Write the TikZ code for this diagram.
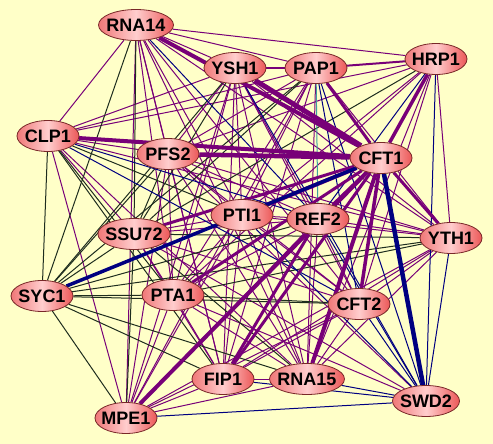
\documentclass[tikz,border=0pt]{standalone}
\usepackage{fontspec}
\setsansfont{Liberation Sans}
\usepackage{xcolor}
\usepackage{tikz}
\usetikzlibrary{shapes.geometric}

\definecolor{bgyellow}{RGB}{255,255,200}
\definecolor{edgepurple}{RGB}{120,0,120}
\definecolor{edgenavy}{RGB}{0,0,128}
\definecolor{edgeblack}{RGB}{30,45,30}
\definecolor{edgeteal}{RGB}{60,160,160}
\definecolor{geneleft}{RGB}{240,120,120}
\definecolor{genemid}{RGB}{255,205,205}
\definecolor{generight}{RGB}{236,88,88}
\definecolor{geneborder}{RGB}{120,40,40}

\pgfdeclarelayer{background}
\pgfdeclarelayer{edges}
\pgfsetlayers{background,edges,main}

\begin{document}
\begin{tikzpicture}[
    x=1pt, y=-1pt,
    gene/.style={ellipse, draw=geneborder, line width=0.8pt, left color=geneleft, right color=generight, middle color=genemid, minimum width=62pt, minimum height=31pt, inner xsep=-3pt, inner ysep=0pt, font=\sffamily\bfseries\fontsize{18}{18}\selectfont},
    link/.style={line width=1pt, color=#1},
    heavy/.style={color=#1},
]
    \useasboundingbox (0,0) rectangle (493,444);
    \begin{pgfonlayer}{background}
        \fill[bgyellow] (0,0) rectangle (493,444);
    \end{pgfonlayer}

    % Top row
    \node[gene] (rna14) at (136,25) {RNA14};
    \node[gene] (ysh1) at (235,68) {YSH1};
    \node[gene] (pap1) at (316,68) {PAP1};
    \node[gene] (hrp1) at (436,59) {HRP1};

    % Upper middle
    \node[gene] (clp1) at (48,136) {CLP1};
    \node[gene] (pfs2) at (168,154) {PFS2};
    \node[gene] (cft1) at (381,158) {CFT1};
    \node[gene] (pti1) at (242,215) {PTI1};
    \node[gene] (ref2) at (318,219) {REF2};
    \node[gene] (ssu72) at (134,234) {SSU72};
    \node[gene] (yth1) at (451,238) {YTH1};

    % Lower middle
    \node[gene] (syc1) at (42,296) {SYC1};
    \node[gene] (pta1) at (173,295) {PTA1};
    \node[gene] (cft2) at (359,304) {CFT2};

    % Bottom row
    \node[gene] (fip1) at (223,379) {FIP1};
    \node[gene] (rna15) at (307,379) {RNA15};
    \node[gene] (mpe1) at (126,418) {MPE1};
    \node[gene, minimum width=67pt] (swd2) at (426,401) {SWD2};

    \begin{pgfonlayer}{edges}
    % Thin purple links
    \foreach \a/\b in {rna14/ysh1, rna14/pap1, rna14/hrp1, rna14/clp1, rna14/pfs2, rna14/pti1, rna14/yth1, rna14/pta1, rna14/cft2, rna14/fip1, rna14/rna15, rna14/mpe1,
        ysh1/clp1, ysh1/pfs2, ysh1/pti1, ysh1/ref2, ysh1/yth1, ysh1/pta1, ysh1/cft2, ysh1/fip1, ysh1/rna15, ysh1/mpe1,
        pap1/clp1, pap1/pfs2, pap1/pti1, pap1/yth1, pap1/pta1, pap1/fip1, pap1/rna15, pap1/mpe1,
        hrp1/clp1, hrp1/pfs2, hrp1/pti1, hrp1/yth1, hrp1/pta1, hrp1/cft2, hrp1/rna15,
        clp1/pfs2, clp1/ssu72, clp1/yth1, clp1/rna15, clp1/mpe1,
        pfs2/pti1, pfs2/ref2, pfs2/yth1, pfs2/pta1, pfs2/cft2, pfs2/fip1, pfs2/rna15, pfs2/mpe1, pfs2/swd2,
        pti1/ref2, pti1/ssu72, pti1/yth1, pti1/pta1, pti1/cft2, pti1/fip1, pti1/rna15, pti1/mpe1,
        ref2/ssu72, ref2/yth1, ref2/pta1, ref2/cft2, ref2/rna15, ref2/mpe1,
        ssu72/pta1, ssu72/cft2, ssu72/fip1, ssu72/swd2,
        yth1/cft2, yth1/fip1, yth1/rna15, yth1/mpe1,
        pta1/fip1, pta1/rna15, pta1/mpe1, pta1/swd2,
        cft2/fip1, cft2/rna15, cft2/mpe1,
        fip1/rna15, fip1/mpe1, rna15/mpe1}
        \draw[link=edgepurple] (\a) -- (\b);

    % Thin black links
    \foreach \a/\b in {rna14/ssu72, rna14/syc1, ysh1/ssu72, ysh1/syc1, pap1/ssu72, pap1/syc1, hrp1/ssu72,
        clp1/pti1, clp1/syc1, clp1/pta1, clp1/fip1, pfs2/ssu72, pfs2/syc1, pti1/syc1, ref2/syc1,
        ssu72/yth1, ssu72/syc1, ssu72/rna15, ssu72/mpe1, yth1/syc1, yth1/pta1,
        syc1/pta1, syc1/cft2, syc1/fip1, syc1/rna15, syc1/mpe1, pta1/cft2}
        \draw[link=edgeblack] (\a) -- (\b);

    % Thin navy links
    \foreach \a/\b in {rna14/ref2, ysh1/swd2, pap1/cft2, pap1/swd2, hrp1/ref2, hrp1/swd2, clp1/ref2, clp1/cft2,
        pti1/swd2, ref2/swd2, yth1/swd2, cft2/swd2, fip1/swd2, rna15/swd2, mpe1/swd2}
        \draw[link=edgenavy] (\a) -- (\b);

    \draw[link=edgeteal] (pap1) -- (ref2);

    % Heavy purple links
    \foreach \a/\b/\w in {rna14/cft1/4, ysh1/cft1/5, clp1/cft1/4, pfs2/cft1/4.5, pap1/cft1/3, hrp1/cft1/3.5,
        ssu72/cft1/3, pti1/cft1/4, ref2/cft1/3, pta1/cft1/3, mpe1/cft1/4, fip1/cft1/3, fip1/ref2/3,
        rna15/cft1/4, cft2/cft1/3.5, yth1/cft1/3, ysh1/pap1/2.5, pap1/hrp1/2}
        \draw[heavy=edgepurple, line width=\w pt] (\a) -- (\b);

    % Heavy navy links
    \draw[heavy=edgenavy, line width=4.5pt] (cft1) -- (swd2);
    \draw[heavy=edgenavy, line width=3.5pt] (syc1) -- (cft1);
    \end{pgfonlayer}

\end{tikzpicture}
\end{document}
